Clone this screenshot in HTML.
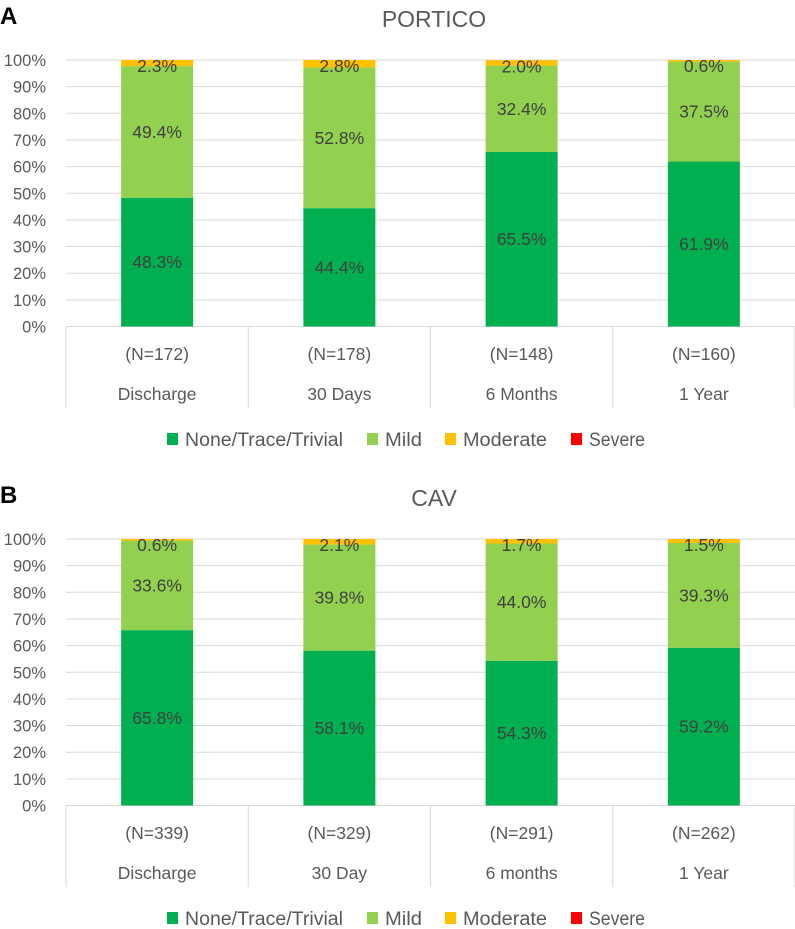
<!DOCTYPE html>
<html><head><meta charset="utf-8">
<style>
html,body{margin:0;padding:0;background:#fff;}
svg{display:block;font-family:"Liberation Sans",Calibri,sans-serif;}
</style></head>
<body>
<svg id="chart" width="795" height="929" viewBox="0 0 795 929"></svg>
<script>
const categoriesA = ["Discharge","30 Days","6 Months","1 Year"];
const nLabelsA = ["(N=172)","(N=178)","(N=148)","(N=160)"];
const noneA = [48.3,44.4,65.5,61.9];
const mildA = [49.4,52.8,32.4,37.5];
const moderateA = [2.3,2.8,2.0,0.6];
const severeA = [0,0,0,0];

const categoriesB = ["Discharge","30 Day","6 months","1 Year"];
const nLabelsB = ["(N=339)","(N=329)","(N=291)","(N=262)"];
const noneB = [65.8,58.1,54.3,59.2];
const mildB = [33.6,39.8,44.0,39.3];
const moderateB = [0.6,2.1,1.7,1.5];
const severeB = [0,0,0,0];

const yTicks = [0,10,20,30,40,50,60,70,80,90,100];
const seriesNames = ["None/Trace/Trivial","Mild","Moderate","Severe"];
const seriesColors = ["#00b050","#92d050","#ffc000","#ff0000"];

const svg = document.getElementById('chart');
const NS = "http://www.w3.org/2000/svg";
function mk(tag, attrs, parent, text){
  const e = document.createElementNS(NS, tag);
  for (const k in attrs) e.setAttribute(k, attrs[k]);
  if (text !== undefined) e.textContent = text;
  (parent || svg).appendChild(e);
  return e;
}

function drawPanel(letter, title, top, cats, nLabels, series){
  const g = mk('g', {});
  
  
  const x0 = 66, x1 = 795;
  const y100 = top + 60, y0 = top + 326.5;
  const yS = v => y0 - (y0 - y100) * v / 100;
  const catW = (x1 - x0) / cats.length;
  const xC = i => x0 + catW * (i + 0.5);
  const barW = 72;

  const l = mk('text', {x: 0, y: top + 24, 'font-size': 24, 'font-weight': 'bold', fill: '#000'}, g, letter);
  
  
  const t = mk('text', {x: 434, y: top + 27, 'font-size': 23, fill: '#595959', 'text-anchor': 'middle'}, g, title);
  
  

  yTicks.forEach(v => {
    const y = yS(v);
    if (v > 0) {
      const gl = mk('line', {x1: x0, x2: x1, y1: y, y2: y, stroke: '#d9d9d9', 'stroke-width': 1}, g);
      
      
    }
    const tl = mk('text', {x: 46, y: y + 6, 'font-size': 16.5, fill: '#595959', 'text-anchor': 'end'}, g, v + '%');
    
    
  });

  const boxBottom = top + 408;
  const ax = mk('line', {x1: x0, x2: x1, y1: y0, y2: y0, stroke: '#d9d9d9', 'stroke-width': 1}, g);
  
  
  for (let i = 0; i <= cats.length; i++) {
    const x = x0 + catW * i;
    const vl = mk('line', {x1: x, x2: x, y1: y0, y2: boxBottom, stroke: '#d9d9d9', 'stroke-width': 1}, g);
    
    
  }

  cats.forEach((c, i) => {
    let cum = 0;
    series.forEach((s, k) => {
      const v = s[i];
      if (v <= 0) return;
      const yTop = yS(cum + v), yBot = yS(cum);
      const r = mk('rect', {x: xC(i) - barW / 2, y: yTop, width: barW, height: yBot - yTop, fill: seriesColors[k]}, g);
      
      
      let ly = (yTop + yBot) / 2 + 6;
      if (k === 2) ly = yTop + 12;
      const dl = mk('text', {x: xC(i), y: ly, 'font-size': 17.5, fill: '#404040', 'text-anchor': 'middle'}, g, v.toFixed(1) + '%');
      
      
      cum += v;
    });
    const nl = mk('text', {x: xC(i), y: top + 360, 'font-size': 17.5, fill: '#595959', 'text-anchor': 'middle'}, g, nLabels[i]);
    
    
    const cl = mk('text', {x: xC(i), y: top + 400, 'font-size': 17.5, fill: '#595959', 'text-anchor': 'middle'}, g, c);
    
    
  });

  const legX = [167, 367, 445, 571];
  const legW = [158, 37, 84, 56];
  seriesNames.forEach((n, k) => {
    const lg = mk('g', {}, g);
    
    
    mk('rect', {x: legX[k], y: top + 433, width: 11, height: 12, fill: seriesColors[k]}, lg);
    mk('text', {x: legX[k] + 18, y: top + 446, 'font-size': 19, fill: '#595959', textLength: legW[k], lengthAdjust: 'spacingAndGlyphs'}, lg, n);
  });
}

drawPanel('A', 'PORTICO', 0, categoriesA, nLabelsA, [noneA, mildA, moderateA, severeA]);
drawPanel('B', 'CAV', 479, categoriesB, nLabelsB, [noneB, mildB, moderateB, severeB]);
</script>
</body></html>
